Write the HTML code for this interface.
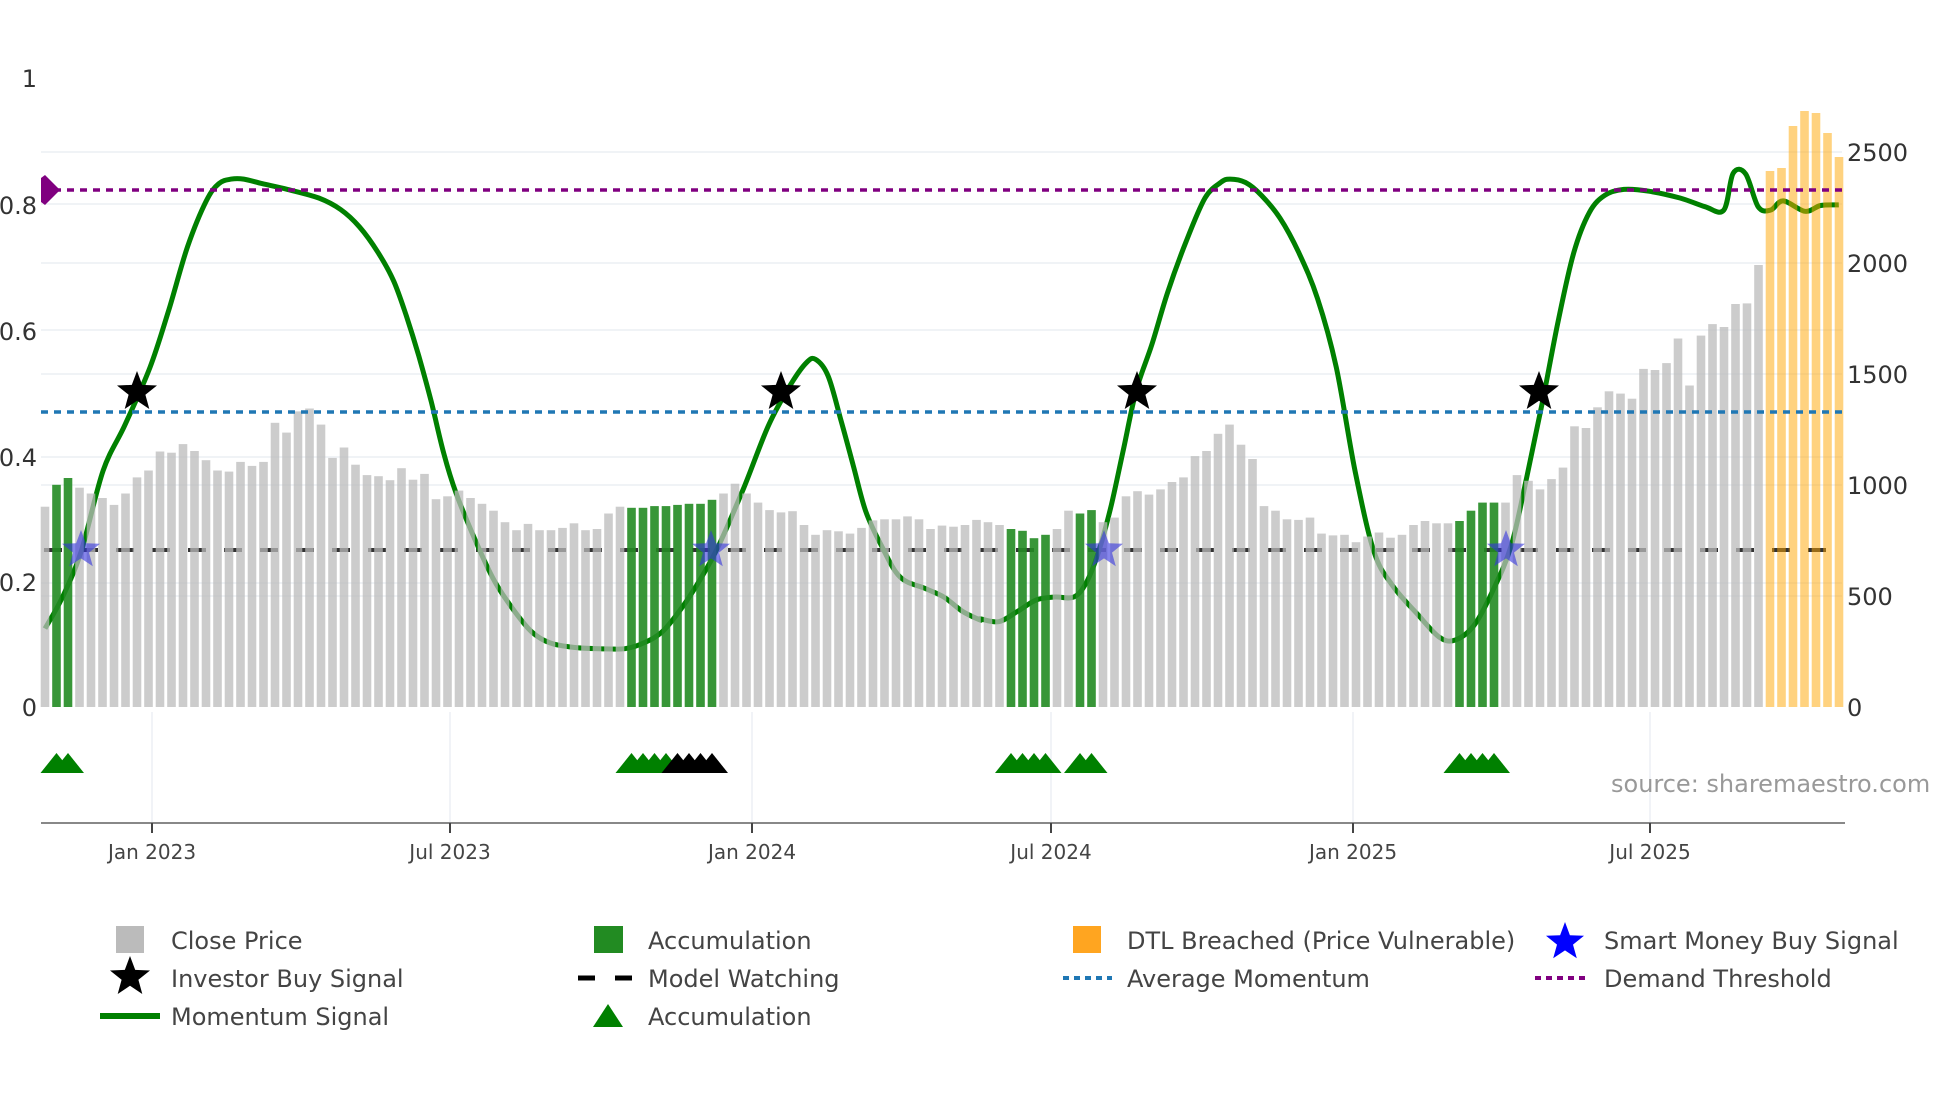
<!DOCTYPE html>
<html><head><meta charset="utf-8">
<style>
html,body{margin:0;padding:0;background:#fff;}
svg{display:block;font-family:"DejaVu Sans","Liberation Sans",sans-serif;}
</style></head>
<body>
<svg id="c" width="1960" height="1102" viewBox="0 0 1960 1102" xmlns="http://www.w3.org/2000/svg">
<g id="grid" stroke="#eceff4" stroke-width="1.5">
<line x1="41" x2="1842" y1="152" y2="152"/>
<line x1="41" x2="1842" y1="204" y2="204"/>
<line x1="41" x2="1842" y1="263" y2="263"/>
<line x1="41" x2="1842" y1="330" y2="330"/>
<line x1="41" x2="1842" y1="374" y2="374"/>
<line x1="41" x2="1842" y1="457" y2="457"/>
<line x1="41" x2="1842" y1="485" y2="485"/>
<line x1="41" x2="1842" y1="583" y2="583"/>
<line x1="41" x2="1842" y1="596" y2="596"/>
<line x1="152" x2="152" y1="712" y2="823"/>
<line x1="450" x2="450" y1="712" y2="823"/>
<line x1="752" x2="752" y1="712" y2="823"/>
<line x1="1051" x2="1051" y1="712" y2="823"/>
<line x1="1353" x2="1353" y1="712" y2="823"/>
<line x1="1650" x2="1650" y1="712" y2="823"/>
</g>
<g id="under"></g>
<g id="bars"></g>
<g id="over"></g>
<line x1="41" x2="1845" y1="823" y2="823" stroke="#888" stroke-width="2"/>
<g stroke="#444" stroke-width="2">
<line x1="152" x2="152" y1="823" y2="833"/><line x1="450" x2="450" y1="823" y2="833"/>
<line x1="752" x2="752" y1="823" y2="833"/><line x1="1051" x2="1051" y1="823" y2="833"/>
<line x1="1353" x2="1353" y1="823" y2="833"/><line x1="1650" x2="1650" y1="823" y2="833"/>
</g>
<g font-size="20" fill="#444" text-anchor="middle">
<text x="152" y="859">Jan 2023</text><text x="450" y="859">Jul 2023</text>
<text x="752" y="859">Jan 2024</text><text x="1051" y="859">Jul 2024</text>
<text x="1353" y="859">Jan 2025</text><text x="1650" y="859">Jul 2025</text>
</g>
<g font-size="24" fill="#333" text-anchor="end">
<text x="37" y="87">1</text><text x="37" y="214">0.8</text><text x="37" y="340">0.6</text>
<text x="37" y="466">0.4</text><text x="37" y="591">0.2</text><text x="37" y="716">0</text>
</g>
<g font-size="24" fill="#333">
<text x="1847" y="161">2500</text><text x="1847" y="272">2000</text><text x="1847" y="383">1500</text>
<text x="1847" y="494">1000</text><text x="1847" y="605">500</text><text x="1847" y="716">0</text>
</g>
<text x="1611" y="792" font-size="24" fill="#999">source: sharemaestro.com</text>
<g font-size="24" fill="#444">
<rect x="116" y="926" width="28" height="27" fill="#bbb"/>
<text x="171" y="949">Close Price</text>
<polygon id="lstar" fill="#000"/>
<text x="171" y="987">Investor Buy Signal</text>
<line x1="100" x2="160" y1="1016" y2="1016" stroke="#008000" stroke-width="6"/>
<text x="171" y="1025">Momentum Signal</text>
<rect x="594" y="926" width="29" height="27" fill="#228b22"/>
<text x="648" y="949">Accumulation</text>
<line x1="578" x2="632" y1="978" y2="978" stroke="#000" stroke-width="5" stroke-dasharray="17 20"/>
<text x="648" y="987">Model Watching</text>
<polygon points="593,1027 623,1027 608,1004" fill="#008000"/>
<text x="648" y="1025">Accumulation</text>
<rect x="1073" y="926" width="28" height="27" fill="#ffa520"/>
<text x="1127" y="949">DTL Breached (Price Vulnerable)</text>
<line x1="1063" x2="1112" y1="978" y2="978" stroke="#1f77b4" stroke-width="4" stroke-dasharray="6 5"/>
<text x="1127" y="987">Average Momentum</text>
<polygon id="lbstar" fill="#0000ff"/>
<text x="1604" y="949">Smart Money Buy Signal</text>
<line x1="1535" x2="1590" y1="978" y2="978" stroke="#800080" stroke-width="4" stroke-dasharray="6 5"/>
<text x="1604" y="987">Demand Threshold</text>
</g>
</svg>
<script>
var NS="http://www.w3.org/2000/svg";
function el(p,t,a){var e=document.createElementNS(NS,t);for(var k in a)e.setAttribute(k,a[k]);p.appendChild(e);return e;}
function star(cx,cy,R){var r=R*0.42,s=[];for(var i=0;i<10;i++){var a=-Math.PI/2+i*Math.PI/5,rr=i%2?r:R;s.push((cx+rr*Math.cos(a)).toFixed(1)+","+(cy+rr*Math.sin(a)).toFixed(1));}return s.join(" ");}
var ys1=[883,845,833,850,860,868,880,860,832,820,787,789,774,786,802,820,822,805,812,805,737,754,717,712,740,798,780,810,828,830,837,816,836,826,870,865,855,868,878,890,910,924,913,924,924,920,912,924,922,895,883,885,885,882,882,880,878,878,871,860,843,860,876,889,893,891,915,932,924,926,930,920,907,905,905,900,905,922,916,918,915,906];
var ys2=[910,915,922,925,938,932,922,890,895,889,910,902,865,856,862,853,840,832,795,786,756,740,775,800,882,890,905,906,902,930,933,932,945,935,928,937,932,915,908,912,912,908,890,876,876,876,828,838,853,835,815,743,746,710,682,686,695,643,645,633,590,672,585,565,570,530,529,462];
var ys=ys1.concat(ys2);
var H=ys.map(function(y){return (1232-y)/1.742;});
H=H.concat([536,539,581,596,594,574,550]);
var green={2:1,3:1,85:1,86:1,87:1,88:1,91:1,92:1,124:1,125:1,126:1,127:1};
for(var i=52;i<=59;i++)green[i]=1;
var under=document.getElementById("under"),bars=document.getElementById("bars"),over=document.getElementById("over");
el(under,"line",{x1:44,x2:1830,y1:550,y2:550,stroke:"#333","stroke-width":4,"stroke-dasharray":"18 18"});
var p1=[[72,1095],[100,1040],[130,960],[165,820],[200,740],[240,640],[270,540],[300,430],[330,350],[350,320],[370,312],[390,312],[420,320],[460,330],[510,345],[545,365],[575,395],[605,440],[630,490],[650,550],[670,620],[690,700],[710,790],[730,860],[760,940],[790,1010],[820,1060],[850,1100],[880,1120],[920,1128],[960,1130],[1000,1130],[1030,1120],[1060,1100],[1090,1060],[1120,1010],[1150,950],[1190,850],[1230,740],[1265,670],[1290,632],[1305,626],[1325,655],[1345,730],[1365,810],[1385,890],[1410,950],[1440,1005],[1480,1025],[1510,1040],[1540,1065],[1568,1080]];
var p2=[[0,1078],[30,1083],[60,1065],[90,1045],[120,1040],[150,1040],[170,1015],[190,960],[210,880],[230,780],[250,680],[275,600],[300,510],[330,420],[360,345],[385,318],[400,312],[425,318],[450,340],[480,380],[510,440],[540,520],[570,640],[600,820],[630,960],[660,1020],[700,1070],[735,1110],[760,1115],[790,1090],[820,1030],[850,950],[875,830],[900,700],[925,560],[950,440],[975,370],[1000,340],[1030,330],[1070,333],[1120,345],[1160,360],[1190,366],[1205,302],[1225,303],[1245,360],[1265,366],[1285,350],[1320,368],[1345,358],[1374,357]];
var P=p1.map(function(p){return [p[0]/1.6,p[1]/1.742];}).concat(p2.map(function(p){return [980+p[0]/1.6,p[1]/1.742];}));
var d="M"+P[0][0].toFixed(1)+","+P[0][1].toFixed(1);
for(var i=0;i<P.length-1;i++){var a=P[i-1]||P[i],b=P[i],c=P[i+1],e=P[i+2]||c;
 d+=" C"+(b[0]+(c[0]-a[0])/6).toFixed(1)+","+(b[1]+(c[1]-a[1])/6).toFixed(1)+" "+(c[0]-(e[0]-b[0])/6).toFixed(1)+","+(c[1]-(e[1]-b[1])/6).toFixed(1)+" "+c[0].toFixed(1)+","+c[1].toFixed(1);}
el(under,"path",{d:d,fill:"none",stroke:"#008000","stroke-width":5,"stroke-linejoin":"round"});
for(var i=0;i<H.length;i++){
  var idx=i+1,cx=45+i*11.5,fill,op;
  if(idx>150){fill="#ffa500";op=0.5;}else if(green[idx]){fill="#228b22";op=0.9;}else{fill="#bbb";op=0.75;}
  el(bars,"rect",{x:(cx-4.3).toFixed(1),y:(707-H[i]).toFixed(1),width:8.6,height:H[i].toFixed(1),fill:fill,"fill-opacity":op});
}
el(over,"line",{x1:41,x2:1842,y1:190,y2:190,stroke:"#800080","stroke-width":3.5,"stroke-dasharray":"7 6"});
el(over,"line",{x1:41,x2:1842,y1:412,y2:412,stroke:"#1f77b4","stroke-width":3.5,"stroke-dasharray":"7 6"});
el(over,"polygon",{points:"41,178 45,175 60,190 45,205 41,202",fill:"#800080"});
[137,781,1137,1539].forEach(function(x){el(over,"polygon",{points:star(x,392,21),fill:"#000"});});
[81,711,1104,1506].forEach(function(x){el(over,"polygon",{points:star(x,550,20),fill:"#3333dd","fill-opacity":0.6});});
function tri(idx,col){var cx=45+(idx-1)*11.5;el(over,"polygon",{points:(cx-16)+",773 "+(cx+16)+",773 "+cx+",753",fill:col});}
[2,3,52,53,54,55,85,86,87,88,91,92,124,125,126,127].forEach(function(i){tri(i,"#008000");});
[56,57,58,59].forEach(function(i){tri(i,"#000");});
document.getElementById("lstar").setAttribute("points",star(130,977,21));
document.getElementById("lbstar").setAttribute("points",star(1565,942,20));
</script>
</body></html>
